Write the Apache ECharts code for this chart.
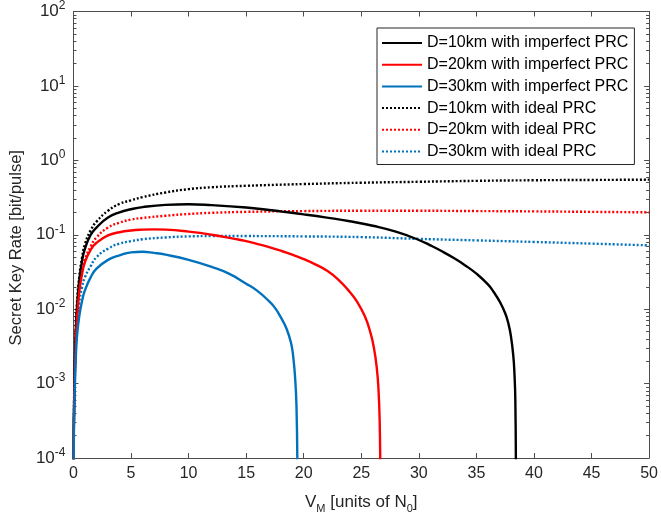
<!DOCTYPE html>
<html>
<head>
<meta charset="utf-8">
<title>Secret Key Rate</title>
<script src="https://cdn.jsdelivr.net/npm/echarts@6/dist/echarts.min.js"></script>
<style>
  html, body { margin: 0; padding: 0; background: #fff; }
  #chart { width: 661px; height: 526px; }
</style>
</head>
<body>
<div id="chart"></div>
<script>
// D=10km imperfect PRC
let vm10Imp = [0.01, 0.02, 0.05, 0.1, 0.2, 0.3, 0.5, 0.75, 1, 1.5, 2, 3, 4, 5, 6, 8, 10, 12, 15, 17, 18, 20, 22, 24, 26, 28, 30, 31, 32, 33, 34, 35, 36, 36.5, 37, 37.5, 37.8, 38, 38.2, 38.3, 38.38, 38.43];
let rate10Imp = [0.00005, 0.00018, 0.0005, 0.0013, 0.005, 0.010, 0.024, 0.045, 0.065, 0.10, 0.125, 0.17, 0.20, 0.22, 0.235, 0.252, 0.257, 0.25, 0.232, 0.215, 0.206, 0.188, 0.170, 0.152, 0.132, 0.110, 0.085, 0.072, 0.060, 0.049, 0.039, 0.030, 0.0215, 0.017, 0.0128, 0.0088, 0.0062, 0.0043, 0.0024, 0.0014, 0.0006, 0.00007];

// D=20km imperfect PRC
let vm20Imp = [0.01, 0.02, 0.05, 0.1, 0.2, 0.3, 0.5, 0.75, 1, 1.5, 2, 3, 4, 5, 6, 7, 8, 10, 12, 14, 15, 16, 17, 18, 19, 20, 21, 22, 23, 24, 24.6, 25.3, 25.8, 26.1, 26.35, 26.5, 26.6, 26.65];
let rate20Imp = [0.00005, 0.00016, 0.0004, 0.001, 0.0035, 0.007, 0.017, 0.030, 0.043, 0.063, 0.078, 0.098, 0.108, 0.114, 0.117, 0.118, 0.117, 0.11, 0.10, 0.088, 0.082, 0.075, 0.068, 0.061, 0.054, 0.047, 0.040, 0.033, 0.025, 0.017, 0.0128, 0.0081, 0.0048, 0.003, 0.0016, 0.0008, 0.0003, 0.00007];

// D=30km imperfect PRC
let vm30Imp = [0.01, 0.02, 0.05, 0.1, 0.2, 0.3, 0.5, 0.75, 1, 1.5, 2, 3, 4, 5, 6, 7, 8, 10, 12, 13.5, 15, 16, 17, 17.5, 18, 18.5, 18.9, 19.1, 19.25, 19.37, 19.45];
let rate30Imp = [0.00005, 0.00012, 0.0003, 0.0007, 0.0022, 0.0042, 0.008, 0.013, 0.018, 0.027, 0.035, 0.046, 0.053, 0.058, 0.059, 0.057, 0.054, 0.046, 0.037, 0.030, 0.022, 0.0175, 0.0127, 0.0104, 0.0078, 0.0055, 0.0035, 0.0022, 0.0012, 0.0005, 0.00007];

// ideal PRC curves share one x grid
let vmIdeal = [0.01, 0.02, 0.05, 0.1, 0.2, 0.3, 0.5, 0.75, 1, 1.5, 2, 3, 4, 5, 6, 8, 10, 12, 15, 20, 25, 30, 35, 40, 45, 50];
let rate10Ideal = [0.00006, 0.0002, 0.0006, 0.0015, 0.006, 0.012, 0.027, 0.050, 0.075, 0.115, 0.15, 0.21, 0.26, 0.29, 0.32, 0.37, 0.41, 0.435, 0.455, 0.48, 0.50, 0.515, 0.53, 0.54, 0.545, 0.55];
let rate20Ideal = [0.00005, 0.00017, 0.00045, 0.0011, 0.004, 0.008, 0.019, 0.033, 0.047, 0.070, 0.092, 0.125, 0.145, 0.160, 0.168, 0.180, 0.190, 0.197, 0.203, 0.208, 0.21, 0.21, 0.208, 0.206, 0.203, 0.20];
let rate30Ideal = [0.00005, 0.00015, 0.00035, 0.0008, 0.0028, 0.0055, 0.012, 0.020, 0.027, 0.038, 0.050, 0.065, 0.076, 0.082, 0.087, 0.092, 0.095, 0.096, 0.096, 0.095, 0.093, 0.088, 0.084, 0.080, 0.076, 0.072];

let names = [
    'D=10km with imperfect PRC',
    'D=20km with imperfect PRC',
    'D=30km with imperfect PRC',
    'D=10km with ideal PRC',
    'D=20km with ideal PRC',
    'D=30km with ideal PRC'
];
let colors = ['#000000', '#ff0000', '#0072bd'];

function pairs(xs, ys) {
    return xs.map((x, i) => [x, ys[i]]);
}

// minor ticks (2..9 of each decade) in log10 units
let minorTicks = [];
for (let e = -4; e < 2; e++) {
    for (let k = 2; k <= 9; k++) minorTicks.push(e + Math.log10(k));
}

let axisColor = '#4d4d4d';
let textColor = '#262626';
let font = 'Helvetica, Arial, "Liberation Sans", sans-serif';

function lineSeries(name, data, color, dotted) {
    return {
        name: name,
        type: 'line',
        xAxisIndex: 0,
        yAxisIndex: 0,
        data: data,
        symbol: 'none',
        smooth: 0.5,
        clip: true,
        lineStyle: {
            color: color,
            width: 2.4,
            type: dotted ? [2, 2] : 'solid'
        },
        itemStyle: { color: color },
        z: dotted ? 3 : 4
    };
}

let myChart = echarts.init(document.getElementById('chart'));
let option = {
    animation: false,
    textStyle: { fontFamily: font },
    grid: { left: 71, right: 10, top: 10, bottom: 68 },
    legend: {
        orient: 'vertical',
        left: 377,
        top: 28,
        itemWidth: 40,
        itemHeight: 12,
        itemGap: 5.7,
        padding: [7, 6, 5, 4],
        backgroundColor: '#fff',
        borderColor: '#262626',
        borderWidth: 1,
        itemStyle: { opacity: 0, color: 'transparent', borderWidth: 0 },
        textStyle: { fontSize: 16, lineHeight: 16, color: '#000', fontFamily: font },
        data: names
    },
    xAxis: [
        {
            type: 'value',
            position: 'bottom',
            min: 0,
            max: 50,
            interval: 5,
            axisLine: { onZero: false, lineStyle: { color: axisColor } },
            axisTick: { inside: true, length: 5, lineStyle: { color: axisColor } },
            axisLabel: { fontSize: 16, color: textColor, margin: 8 },
            splitLine: { show: false },
            name: '{a|V}{sub|M}{a| [units of N}{sub|0}{a|]}',
            nameLocation: 'middle',
            nameGap: 33,
            nameTextStyle: {
                rich: {
                    a: { fontSize: 17, color: textColor, fontFamily: font },
                    sub: { fontSize: 11, color: textColor, fontFamily: font, padding: [12, 0, 0, 0] }
                }
            }
        },
        {
            type: 'value',
            position: 'top',
            min: 0,
            max: 50,
            interval: 5,
            axisLine: { onZero: false, lineStyle: { color: axisColor } },
            axisTick: { inside: true, length: 5, lineStyle: { color: axisColor } },
            axisLabel: { show: false },
            splitLine: { show: false }
        }
    ],
    yAxis: [
        {
            type: 'log',
            logBase: 10,
            position: 'left',
            min: 0.0001,
            max: 100,
            splitNumber: 6,
            axisLine: { onZero: false, lineStyle: { color: axisColor } },
            axisTick: { inside: true, length: 5, lineStyle: { color: axisColor } },
            axisLabel: {
                color: textColor,
                margin: 8,
                formatter: function (v) {
                    let e = Math.round(Math.log10(v));
                    return '{b|10}{s|' + e + '}';
                },
                rich: {
                    b: { fontSize: 17, color: textColor, fontFamily: font },
                    s: { fontSize: 12, color: textColor, fontFamily: font, padding: [0, 0, 11, 0] }
                }
            },
            splitLine: { show: false },
            name: 'Secret Key Rate [bit/pulse]',
            nameLocation: 'middle',
            nameGap: 39,
            nameTextStyle: { fontSize: 16.5, color: textColor, padding: [0, 26, 0, 0] }
        },
        {
            type: 'log',
            logBase: 10,
            position: 'right',
            min: 0.0001,
            max: 100,
            splitNumber: 6,
            axisLine: { onZero: false, lineStyle: { color: axisColor } },
            axisTick: { inside: true, length: 5, lineStyle: { color: axisColor } },
            axisLabel: { show: false },
            splitLine: { show: false }
        },
        {
            // minor ticks, left
            type: 'value',
            position: 'left',
            min: -4,
            max: 2,
            axisLine: { show: false, onZero: false },
            axisTick: { inside: true, length: 3, customValues: minorTicks, lineStyle: { color: axisColor } },
            axisLabel: { show: false },
            splitLine: { show: false }
        },
        {
            // minor ticks, right
            type: 'value',
            position: 'right',
            min: -4,
            max: 2,
            axisLine: { show: false, onZero: false },
            axisTick: { inside: true, length: 3, customValues: minorTicks, lineStyle: { color: axisColor } },
            axisLabel: { show: false },
            splitLine: { show: false }
        }
    ],
    series: [
        lineSeries(names[0], pairs(vm10Imp, rate10Imp), colors[0], false),
        lineSeries(names[1], pairs(vm20Imp, rate20Imp), colors[1], false),
        lineSeries(names[2], pairs(vm30Imp, rate30Imp), colors[2], false),
        lineSeries(names[3], pairs(vmIdeal, rate10Ideal), colors[0], true),
        lineSeries(names[4], pairs(vmIdeal, rate20Ideal), colors[1], true),
        lineSeries(names[5], pairs(vmIdeal, rate30Ideal), colors[2], true)
    ]
};
myChart.setOption(option);
</script>
</body>
</html>
